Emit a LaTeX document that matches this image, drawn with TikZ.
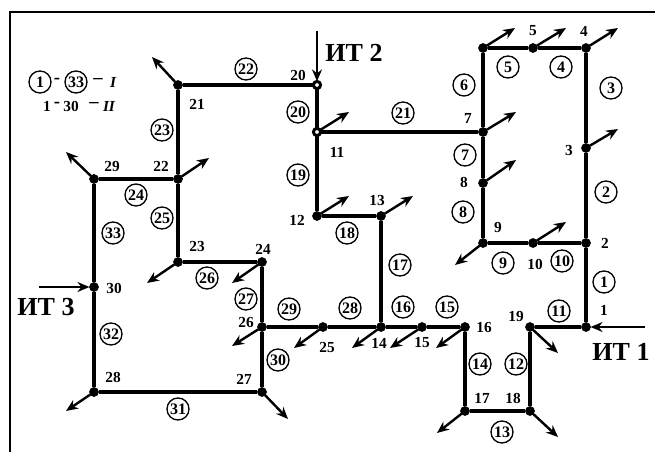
\documentclass[tikz,border=0pt]{standalone}
\usepackage{fontspec}
\setmainfont{Liberation Serif}
\usetikzlibrary{arrows.meta}
\tikzset{
  x=0.75pt,y=-0.75pt,
  every node/.style={inner sep=0pt,outer sep=0pt},
  pt/.style={circle,fill=black,draw=black,minimum size=6.8pt,line width=0.4pt},
  ptw/.style={circle,fill=white,draw=black,minimum size=5.4pt,line width=2.2pt},
  lnk/.style={line width=2.3pt},
  arr/.style={line width=1.8pt,-{Stealth[length=9pt,width=7.5pt]}},
  num/.style={font=\fontsize{11.5}{13}\selectfont\bfseries},
  cnum/.style={circle,draw=black,line width=1pt,minimum size=16.5pt,font=\fontsize{12}{13}\selectfont\bfseries},
  big/.style={font=\fontsize{19.5}{22}\selectfont\bfseries},
  leg/.style={font=\fontsize{11.5}{13}\selectfont\bfseries},
  legdash/.style={font=\fontsize{14}{15}\selectfont\bfseries},
  legi/.style={font=\fontsize{11.5}{13}\selectfont\bfseries\itshape}
}
\begin{document}
\begin{tikzpicture}
\useasboundingbox (0,0) rectangle (655,452);
\draw[line width=1.5pt] (9.5,452) -- (9.5,12.5) -- (655,12.5);
% vertices
\foreach \n/\x/\y in {a/483/48,b/533/48,c/586/48,d/586/148,e/586/243,f/586/327,g/533/243,h/483/243,i/483/183,j/483/132,l/317/216,m/381/216,n/381/327,o/422/327,p/465/327,q/465/411,r/530/411,s/530/327,t/178/85,u/178/179,v/94/179,w/94/287,x/94/392,y/262/392,z/262/327,aa/323/327,bb/262/262,cc/178/262}
  \node[pt] (\n) at (\x,\y) {};
\node[ptw] (k) at (317,132) {};
\node[ptw] (top) at (317,85) {};
% links
\foreach \p/\q in {top/t,t/u,u/cc,cc/bb,bb/z,z/y,y/x,x/w,w/v,v/u,top/k,k/l,l/m,m/n,k/j,a/b,b/c,c/d,d/e,e/f,f/s,s/r,r/q,q/p,p/o,o/n,n/aa,aa/z,a/j,j/i,i/h,h/g,g/e}
  \draw[lnk] (\p) -- (\q);
% outgoing
\foreach \s/\x/\y in {a/515/28,b/566/28,c/618/28,d/618/129,j/516/112,i/516/160,g/566/222,h/455/265,k/349/112,l/349/196,m/413/196,s/558/353,r/558/437,q/437/433,p/436/348,o/390/348,n/352/348,aa/294/348,z/232/346,y/288/419,x/66/411,bb/232/283,cc/147/283,v/66/152,u/209/158,t/152/57}{
  \coordinate (\s end) at (\x,\y);
  \draw[arr] (\s) -- (\s end);
}
% sources
\coordinate (it1) at (645,327); \coordinate (it2) at (317,31); \coordinate (it3) at (39,287);
\draw[arr] (it1) -- (f);
\draw[arr] (it2) -- (top);
\draw[arr] (it3) -- (w);
% source labels
\node[big] (lab2) at (354,53) {ИТ 2};
\node[big] (lab3) at (46,307) {ИТ 3};
\node[big] (lab1) at (621,352) {ИТ 1};
% vertex numbers
\foreach \t/\x/\y in {1/604/310,2/605/243,3/569/150,4/584/31,5/533/31,7/468/118,8/464/182,9/498/227,10/535/264,11/337/152,12/297/220,13/377/200,14/379/343,15/422/343,16/484/327,17/482/398,18/513/398,19/516/316,20/298/75,21/197/104,22/161/166,23/197/246,24/263/249,25/327/347,26/246/322,27/244/379,28/113/377,29/112/166,30/114/288}
  \node[num] (v\t) at (\x,\y) {\t};
% circled numbers
\foreach \t/\x/\y in {1/604/282,2/606/192,3/611/88,4/561/67,5/508/67,6/464/85,7/465/155,8/463/212,9/503/263,10/562/261,11/559/311,12/516/364,13/502/432,14/480/364,15/447/307,16/403/307,17/400/265,18/347/233,19/298/175,20/298/112,21/403/113,22/246/69,23/162/130,24/136/195,25/162/218,26/207/278,27/246/299,28/350/308,29/289/309,30/278/360,31/178/409,32/111/334,33/113/233}
  \node[cnum] (c\t) at (\x,\y) {\t};
% legend
\node[cnum] (lega) at (40,82) {1};
\node[legdash] (legb) at (57,81) {-};
\node[cnum] (legc) at (76,82) {33};
\node[legdash] (legd) at (98,81) {–};
\node[legi] (lege) at (113,82) {I};
\node[leg] (legf) at (47,106) {1};
\node[legdash] (legg) at (57,105) {-};
\node[leg] (legh) at (71,106) {30};
\node[legdash] (legi) at (94,105) {–};
\node[legi] (legj) at (109,106) {II};
\end{tikzpicture}
\end{document}
